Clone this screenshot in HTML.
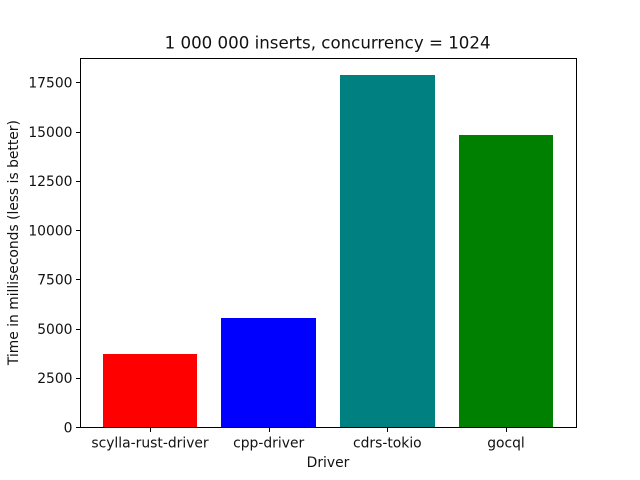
<!DOCTYPE html>
<html>
<head>
<meta charset="utf-8">
<style>
html,body{margin:0;padding:0;background:#fff;}
svg{display:block;}
text{font-family:"DejaVu Sans","Liberation Sans",sans-serif;fill:#111;}
rect,line{shape-rendering:crispEdges;}
</style>
</head>
<body>
<svg id="chart" xmlns="http://www.w3.org/2000/svg" width="640" height="480" viewBox="0 0 640 480"></svg>
<script>
const categories = ["scylla-rust-driver", "cpp-driver", "cdrs-tokio", "gocql"];
const values = [3712, 5537, 17860, 14817];
const barColors = ["#ff0000", "#0000ff", "#008080", "#008000"];
const yTicks = [0, 2500, 5000, 7500, 10000, 12500, 15000, 17500];

const svg = document.getElementById('chart');
const NS = 'http://www.w3.org/2000/svg';
const plot = {left: 80, right: 576, top: 57.6, bottom: 427.2};
const barWidth = 0.8;
const xMin = -barWidth / 2 - (categories.length - 1 + barWidth) * 0.05;
const xMax = categories.length - 1 + barWidth / 2 + (categories.length - 1 + barWidth) * 0.05;
const yMax = Math.max(...values) * 1.05;

function xScale(v) { return plot.left + (v - xMin) / (xMax - xMin) * (plot.right - plot.left); }
function yScale(v) { return plot.bottom - v / yMax * (plot.bottom - plot.top); }
function snap(v) { return Math.round(v) + 0.5; }

function make(tag, attrs, text) {
  const el = document.createElementNS(NS, tag);
  for (const k in attrs) el.setAttribute(k, attrs[k]);
  if (text !== undefined) el.textContent = text;
  svg.appendChild(el);
  return el;
}

const bg = make('rect', {x: 0, y: 0, width: 640, height: 480, fill: '#fff'});



categories.forEach(function (c, i) {
  const x0 = Math.round(xScale(i - barWidth / 2) + 0.01);
  const x1 = Math.round(xScale(i + barWidth / 2));
  const yTop = Math.round(yScale(values[i]));
  const bar = make('rect', {x: x0, y: yTop, width: x1 - x0, height: Math.round(plot.bottom) - yTop, fill: barColors[i]});
  
  

  const cx = snap(xScale(i));
  const tick = make('line', {x1: cx, x2: cx, y1: 427, y2: 432, stroke: '#000', 'stroke-width': 1});
  
  

  const label = make('text', {x: xScale(i), y: 447.5, 'text-anchor': 'middle', 'font-size': 13.89}, c);
  
  
});

yTicks.forEach(function (t) {
  const y = snap(yScale(t));
  const tick = make('line', {x1: 76, x2: 80, y1: y, y2: y, stroke: '#000', 'stroke-width': 1});
  
  

  const label = make('text', {x: plot.left - 7.5, y: yScale(t) + 5.3, 'text-anchor': 'end', 'font-size': 13.89}, String(t));
  
  
});

const frame = make('rect', {x: 80.5, y: 58.5, width: 496, height: 369, fill: 'none', stroke: '#000', 'stroke-width': 1});



const title = make('text', {x: 327.6, y: 48.5, 'text-anchor': 'middle', 'font-size': 16.65}, '1 000 000 inserts, concurrency = 1024');



const xTitle = make('text', {x: 328, y: 467, 'text-anchor': 'middle', 'font-size': 13.89}, 'Driver');



const yTitle = make('text', {x: 0, y: 0, 'text-anchor': 'middle', 'font-size': 13.85, transform: 'translate(18,242.6) rotate(-90)'}, 'Time in milliseconds (less is better)');


</script>
</body>
</html>
